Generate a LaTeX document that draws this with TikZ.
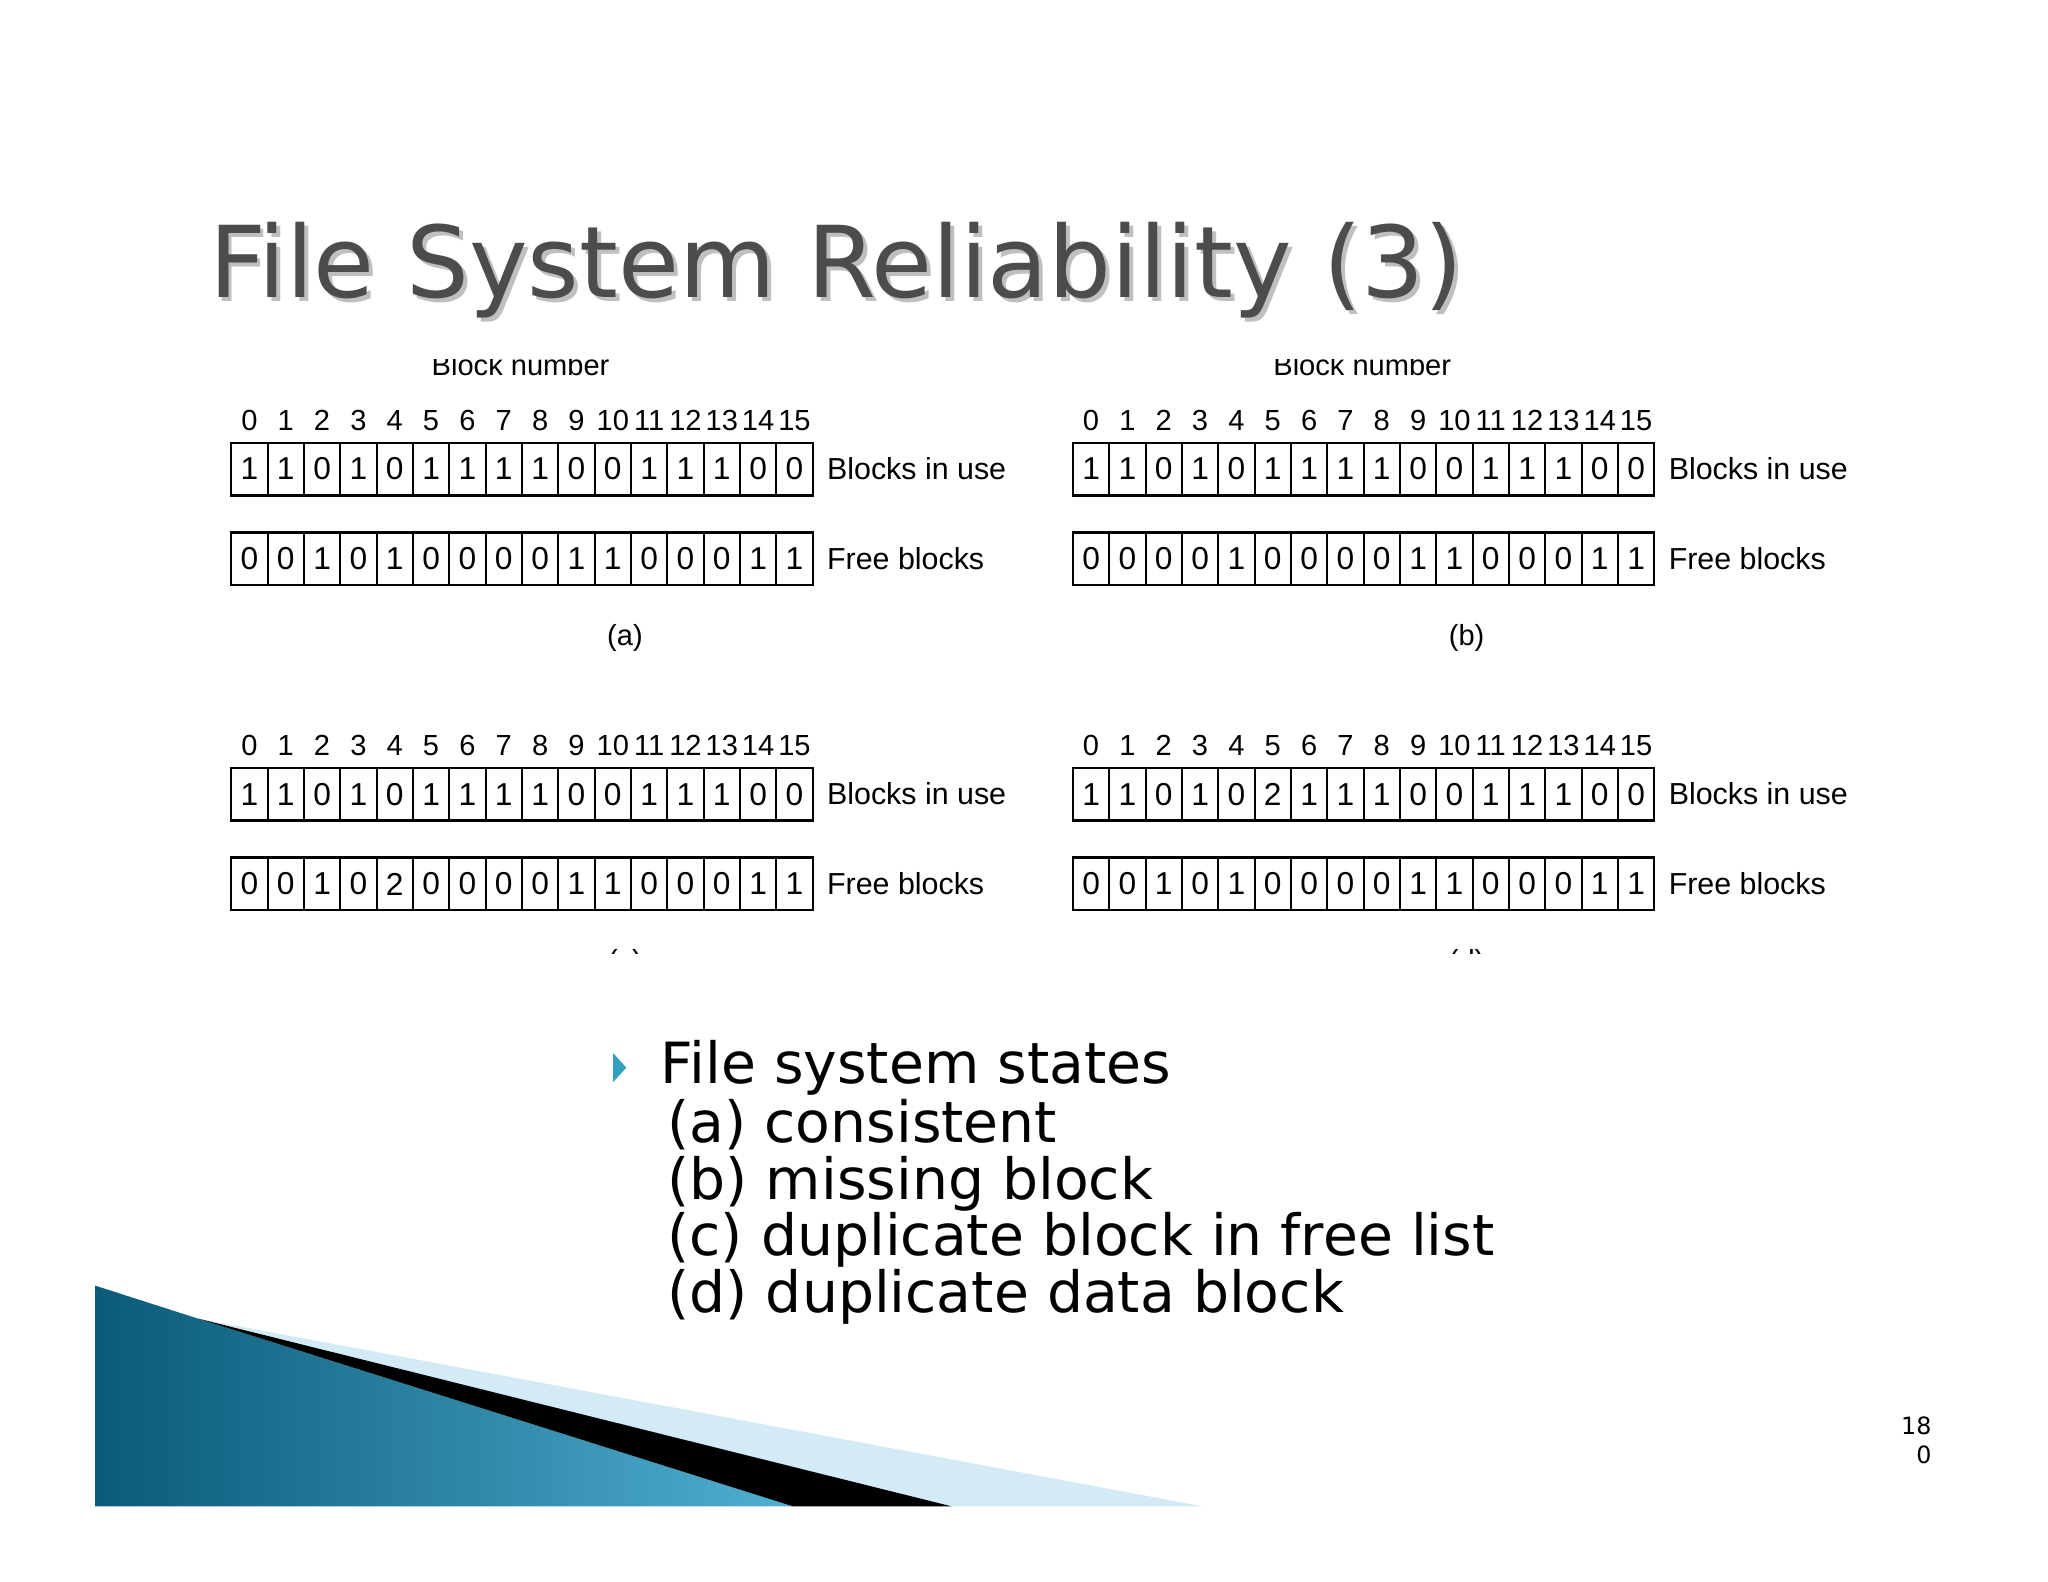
\documentclass[tikz,border=0pt]{standalone}
\usepackage{fontspec}
\setmainfont{Liberation Sans}
\newfontfamily\slidefont{DejaVu Sans}
\usetikzlibrary{positioning}
\definecolor{slideblue}{RGB}{10,90,120}
\definecolor{slidelight}{RGB}{80,175,210}
\definecolor{bulletcyan}{RGB}{50,160,190}
\tikzset{
  cell/.style={draw, line width=1.6pt, minimum width=27.5pt, minimum height=40pt, inner sep=0pt, font=\fontsize{24}{26}\selectfont},
  idx/.style={inner sep=0pt, font=\fontsize{22}{24}\selectfont},
  rowlabel/.style={anchor=west, inner sep=0pt, font=\fontsize{23}{25}\selectfont},
  item/.style={anchor=base west, inner sep=0pt, font=\slidefont\fontsize{43}{45}\selectfont}
}
\begin{document}
\begin{tikzpicture}[x=1pt, y=-1pt]
  \useasboundingbox (0,0) rectangle (1550,1197);
  \fill[white] (0,0) rectangle (1550,1197);

  % Title
  \node[anchor=base west, inner sep=0pt, text=black!25, font=\slidefont\fontsize{75}{80}\selectfont] at (161,228) {File System Reliability (3)};
  \node[anchor=base west, inner sep=0pt, text=black!70, font=\slidefont\fontsize{75}{80}\selectfont] (title) at (158,225) {File System Reliability (3)};

  % Clipped captions
  \begin{scope}
    \clip (0,272) rectangle (1550,290);
    \node[idx] (bna) at (394,276) {Block number};
    \node[idx] (bnb) at (1031,276) {Block number};
  \end{scope}
  \begin{scope}
    \clip (0,712) rectangle (1550,722);
    \node[idx] (capc) at (473,729) {(c)};
    \node[idx] (capd) at (1110,729) {(d)};
  \end{scope}

  % Bitmaps
  \foreach \p/\x/\y/\used/\free in {
      a/175/335/{1,1,0,1,0,1,1,1,1,0,0,1,1,1,0,0}/{0,0,1,0,1,0,0,0,0,1,1,0,0,0,1,1},
      b/812/335/{1,1,0,1,0,1,1,1,1,0,0,1,1,1,0,0}/{0,0,0,0,1,0,0,0,0,1,1,0,0,0,1,1},
      c/175/581/{1,1,0,1,0,1,1,1,1,0,0,1,1,1,0,0}/{0,0,1,0,2,0,0,0,0,1,1,0,0,0,1,1},
      d/812/581/{1,1,0,1,0,2,1,1,1,0,0,1,1,1,0,0}/{0,0,1,0,1,0,0,0,0,1,1,0,0,0,1,1}} {
    \foreach \v [count=\i from 0] in \used {
      \node[cell] (\p-u-\i) at (\x+13.75+27.5*\i, \y+20) {\v};
      \node[idx] (\p-n-\i) at (\x+13.75+27.5*\i, \y-17) {\i};
    }
    \foreach \v [count=\i from 0] in \free
      \node[cell] (\p-f-\i) at (\x+13.75+27.5*\i, \y+88) {\v};
    \node[rowlabel, right=10pt of \p-u-15] (\p-ul) {Blocks in use};
    \node[rowlabel, right=10pt of \p-f-15] (\p-fl) {Free blocks};
  }
  \node[idx] (capa) at (473,483) {(a)};
  \node[idx] (capb) at (1110,483) {(b)};

  % Bullet list
  \fill[bulletcyan] (464,797) -- (474,808) -- (464,819) -- cycle;
  \node[item] (l0) at (500,820) {File system states};
  \node[item] (l1) at (505,865) {(a) consistent};
  \node[item] (l2) at (505,908) {(b) missing block};
  \node[item] (l3) at (505,950) {(c) duplicate block in free list};
  \node[item] (l4) at (505,993) {(d) duplicate data block};

  % Corner decoration
  \fill[slidelight!25] (150,998) -- (910,1140) -- (700,1140) -- cycle;
  \shade[left color=slideblue, right color=slidelight]
    (72,973) -- (150,998) -- (600,1140) -- (72,1140) -- cycle;
  \fill[black] (150,998) -- (720,1140) -- (600,1140) -- cycle;

  % Page number
  \node[inner sep=0pt, font=\slidefont\fontsize{18}{22}\selectfont, align=right, anchor=north east] (page) at (1462,1072) {18\\0};
\end{tikzpicture}
\end{document}
